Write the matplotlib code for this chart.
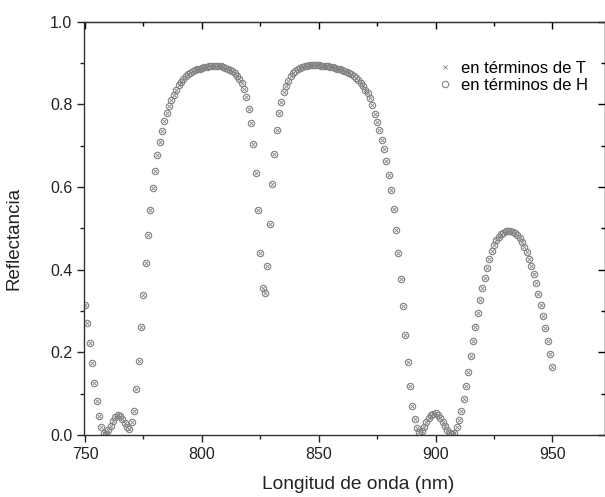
import numpy as np
import matplotlib.pyplot as plt

plt.rcParams['font.family'] = ['Liberation Sans', 'DejaVu Sans']

# longitud de onda, 750..950 nm en pasos de 1 nm
longitud = np.arange(750, 951)

# reflectancia calculada en términos de T
refl_T = [
    0.315, 0.270, 0.222, 0.175, 0.126, 0.083, 0.045, 0.019, 0.005, 0.003,  # 750
    0.011, 0.022, 0.034, 0.044, 0.048, 0.046, 0.038, 0.028, 0.018, 0.014,  # 760
    0.030, 0.058, 0.110, 0.180, 0.260, 0.339, 0.415, 0.485, 0.545, 0.597,  # 770
    0.640, 0.677, 0.709, 0.736, 0.759, 0.779, 0.796, 0.811, 0.824, 0.836,  # 780
    0.846, 0.855, 0.862, 0.868, 0.873, 0.877, 0.880, 0.883, 0.885, 0.887,  # 790
    0.889, 0.890, 0.891, 0.892, 0.893, 0.893, 0.893, 0.893, 0.892, 0.891,  # 800
    0.889, 0.887, 0.884, 0.880, 0.875, 0.869, 0.861, 0.851, 0.838, 0.818,  # 810
    0.789, 0.755, 0.704, 0.634, 0.545, 0.441, 0.355, 0.343, 0.408, 0.511,  # 820
    0.608, 0.680, 0.737, 0.779, 0.805, 0.829, 0.845, 0.858, 0.868, 0.876,  # 830
    0.882, 0.886, 0.889, 0.891, 0.893, 0.894, 0.895, 0.895, 0.895, 0.895,  # 840
    0.895, 0.894, 0.894, 0.893, 0.892, 0.891, 0.890, 0.889, 0.887, 0.885,  # 850
    0.883, 0.881, 0.879, 0.877, 0.874, 0.870, 0.865, 0.859, 0.852, 0.845,  # 860
    0.836, 0.827, 0.815, 0.799, 0.778, 0.758, 0.737, 0.715, 0.692, 0.664,  # 870
    0.630, 0.592, 0.546, 0.496, 0.440, 0.377, 0.311, 0.242, 0.177, 0.119,  # 880
    0.070, 0.038, 0.016, 0.008, 0.010, 0.020, 0.031, 0.040, 0.047, 0.051,  # 890
    0.052, 0.049, 0.042, 0.032, 0.022, 0.012, 0.005, 0.002, 0.005, 0.018,  # 900
    0.036, 0.058, 0.086, 0.118, 0.153, 0.190, 0.227, 0.262, 0.295, 0.327,  # 910
    0.356, 0.381, 0.404, 0.426, 0.444, 0.459, 0.471, 0.480, 0.486, 0.490,  # 920
    0.493, 0.494, 0.494, 0.492, 0.489, 0.484, 0.477, 0.468, 0.456, 0.442,  # 930
    0.427, 0.410, 0.390, 0.367, 0.342, 0.315, 0.287, 0.258, 0.228, 0.197,  # 940
    0.165,                                                                  # 950
]
# en términos de H sale la misma curva
refl_H = list(refl_T)

fig = plt.figure(figsize=(6.05, 4.97), dpi=100)
ax = fig.add_axes([0.139, 0.125, 0.861, 0.831])

gris = '#828282'
ax.plot(longitud, refl_T, linestyle='none', marker='x', markersize=2.5,
        markeredgewidth=0.6, color=gris, label='en términos de T')
ax.plot(longitud, refl_H, linestyle='none', marker='o', markersize=4.6,
        markerfacecolor='none', markeredgewidth=0.8, markeredgecolor=gris,
        label='en términos de H')

ax.set_xlim(749.6, 972.5)
ax.set_ylim(0, 1.0)
ax.set_xticks([750, 800, 850, 900, 950])
ax.set_xticks([775, 825, 875, 925], minor=True)
ax.set_yticks([0.0, 0.2, 0.4, 0.6, 0.8, 1.0])
ax.set_yticks([0.1, 0.3, 0.5, 0.7, 0.9], minor=True)
ax.set_yticklabels(['0.0', '0.2', '0.4', '0.6', '0.8', '1.0'])

ax.tick_params(which='both', direction='out', top=False, right=False,
               labelsize=11.5, width=1.0, colors='#222222')
ax.tick_params(which='major', length=5)
ax.tick_params(which='minor', length=3)

# marcas hacia dentro en los ejes de arriba y derecha
sec_x = ax.secondary_xaxis('top')
sec_x.set_xticks([750, 800, 850, 900, 950])
sec_x.set_xticks([775, 825, 875, 925], minor=True)
sec_x.tick_params(which='both', direction='in', labeltop=False, width=1.0)
sec_x.tick_params(which='major', length=5)
sec_x.tick_params(which='minor', length=3)
sec_y = ax.secondary_yaxis('right')
sec_y.set_yticks([0.0, 0.2, 0.4, 0.6, 0.8, 1.0])
sec_y.set_yticks([0.1, 0.3, 0.5, 0.7, 0.9], minor=True)
sec_y.tick_params(which='both', direction='in', labelright=False, width=1.0)
sec_y.tick_params(which='major', length=5)
sec_y.tick_params(which='minor', length=3)

for s in ax.spines.values():
    s.set_linewidth(1.0)
    s.set_color('#333333')

ax.set_xlabel('Longitud de onda (nm)', fontsize=13.8, color='#222222')
ax.xaxis.set_label_coords(0.527, -0.100)
ax.set_ylabel('Reflectancia', fontsize=13.5, color='#222222')
ax.yaxis.set_label_coords(-0.119, 0.475)

ax.legend(loc='upper left', bbox_to_anchor=(0.660, 0.922), frameon=False,
          fontsize=12, handletextpad=0.4, labelspacing=0.15, markerscale=1.0,
          handlelength=1.2, borderaxespad=0)

fig.savefig('out.png', dpi=100)
